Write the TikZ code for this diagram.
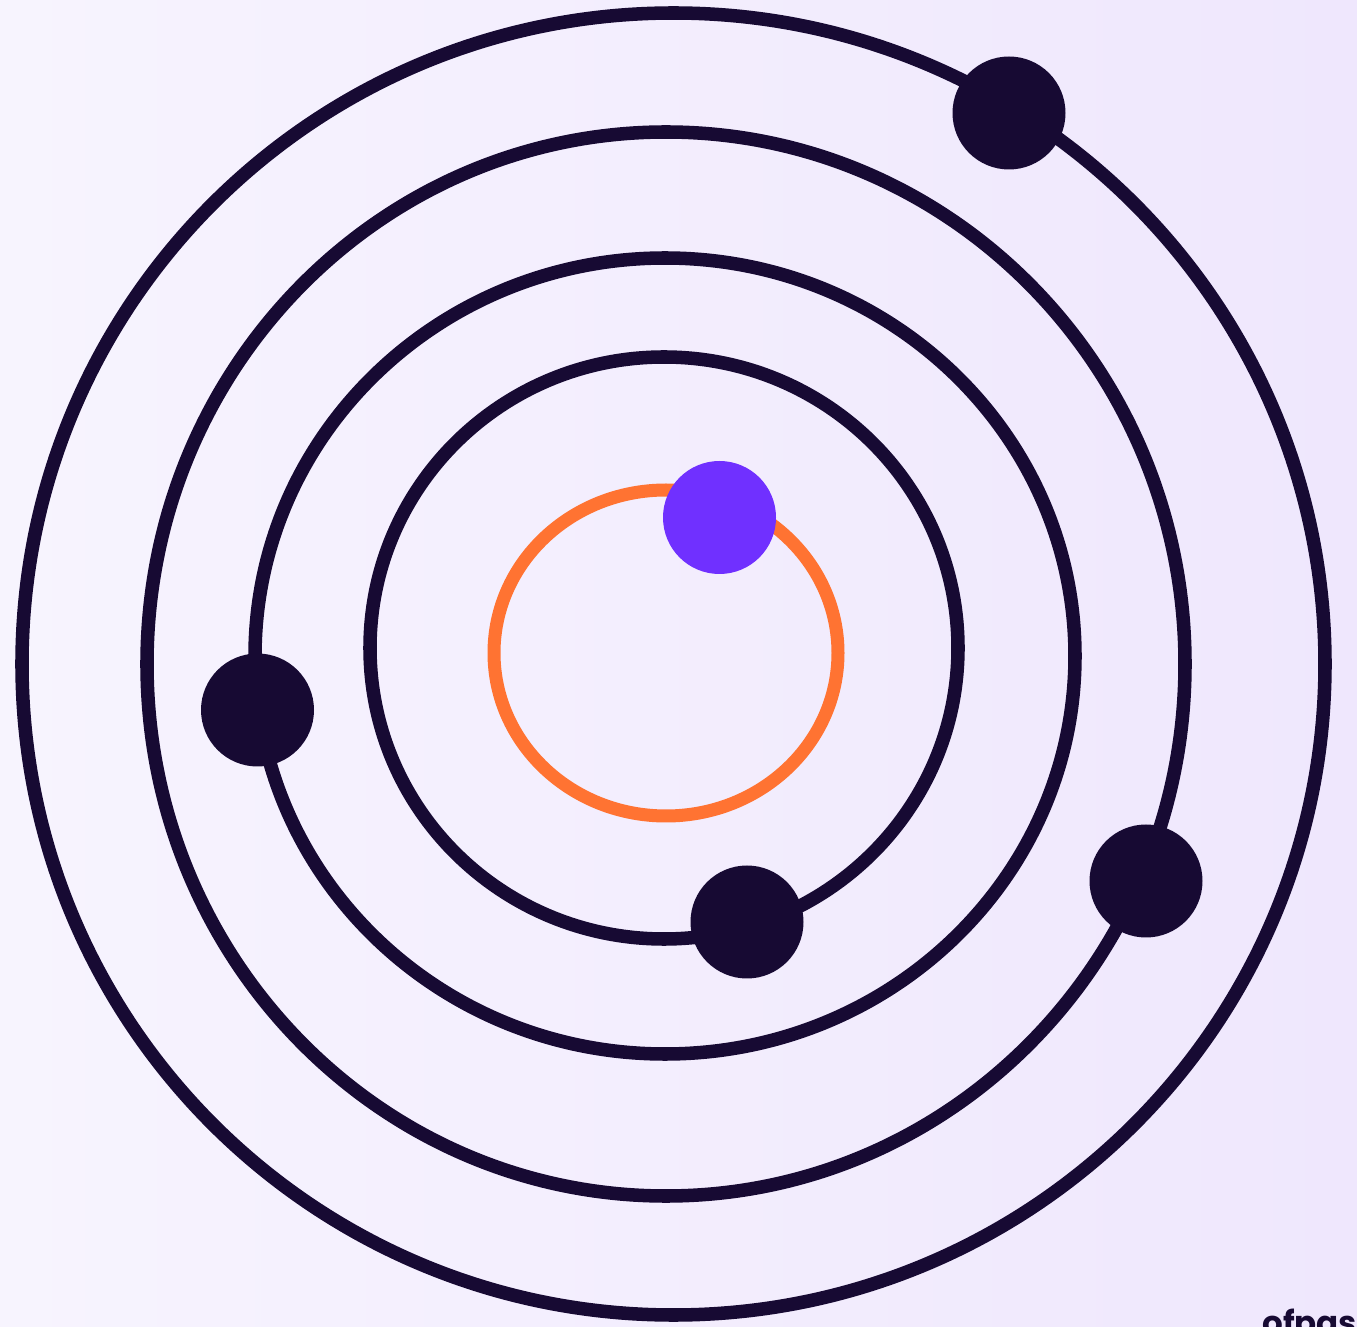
\documentclass[tikz,border=0pt]{standalone}
\usepackage{fontspec}
\newfontfamily\brandfont{Poppins}
\definecolor{ink}{RGB}{23,10,51}
\definecolor{ember}{RGB}{255,115,50}
\definecolor{violet}{RGB}{112,48,255}
\definecolor{bgleft}{RGB}{247,244,254}
\definecolor{bgright}{RGB}{239,231,253}
\tikzset{
  orbit/.style={draw=ink,line width=7.7pt},
  planet/.style={fill=ink}
}
\begin{document}
\begin{tikzpicture}[x=0.02cm,y=-0.02cm]
      \clip (0,0) rectangle (1357,1327);
      \shade[left color=bgleft,right color=bgright] (0,0) rectangle (1357,1327);
      \foreach \c/\rx/\ry in {(673.5,664)/651.5/651,(666,664)/519/532,(665,656)/410/398,(664,648)/294/291} {
        \draw[orbit] \c ellipse [x radius=\rx,y radius=\ry];
      }
      \draw[draw=ember,line width=7.4pt] (666,653) ellipse [x radius=172,y radius=163];
      \foreach \p in {(1009,113),(257.5,710),(1146,881),(747,922)} {
        \fill[planet] \p circle (56.5);
      }
      \fill[violet] (719.5,517.5) circle (56.5);
      \node[ink,anchor=base west,inner sep=0pt,font=\brandfont\bfseries\fontsize{18.5}{20}\selectfont] (brand) at (1262,1334) {ofpas};
    \end{tikzpicture}
\end{document}
